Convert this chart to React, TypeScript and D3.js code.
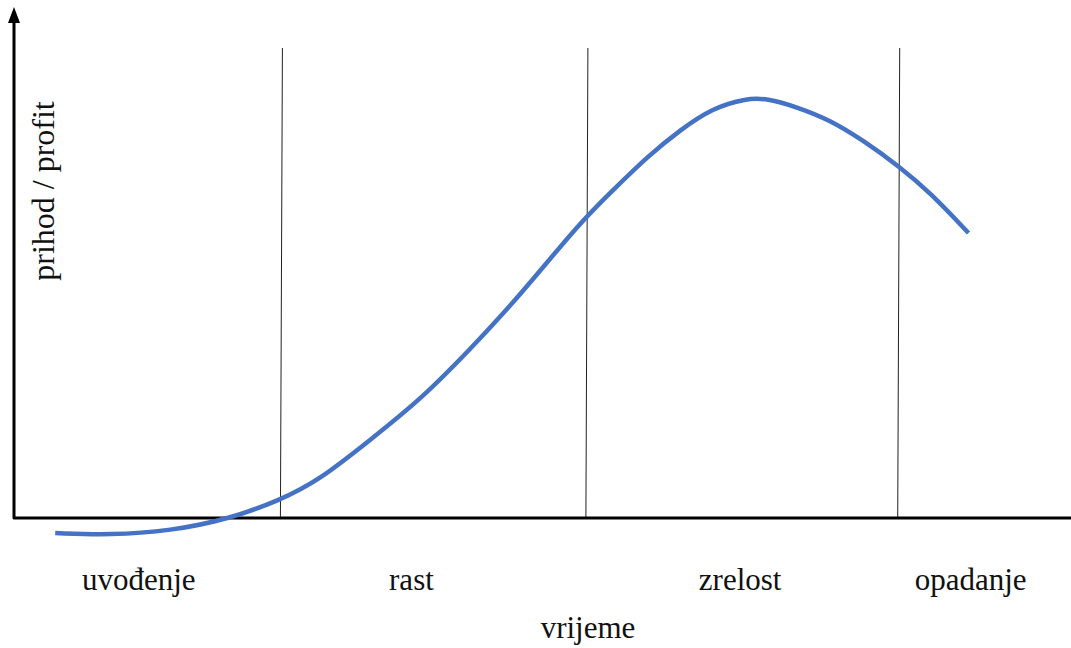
import { useEffect, useRef } from "react";
import * as d3 from "d3";

// stage labels along the time axis and where each sits (in time units)
const stages = ["uvođenje", "rast", "zrelost", "opadanje"];
const stageCenters = [11.8, 37.6, 68.7, 90.5];

// borders between the stages
const boundaries = [25.3, 54.2, 83.7];

// revenue / profit
const time = [3.9, 9.1, 14.8, 20.4, 25.2, 28.9, 33.7, 38.4, 43.1, 47.9, 53.5, 56.7, 59.9, 63.0, 66.1, 69.3, 71.2, 74.1, 77.2, 80.3, 83.8, 86.7, 90.3];
const revenue = [-3.6, -4.1, -3.1, -0.2, 4.3, 9.1, 18.7, 28.2, 40.2, 53.3, 70.6, 78.5, 86.4, 92.8, 98.1, 100.4, 100.4, 98.3, 95.2, 90.4, 84.0, 77.8, 68.2];

const W = 1071;
const H = 648;

export default function App() {
    const svgRef = useRef<SVGSVGElement | null>(null);

    useEffect(() => {
        const svg = d3.select(svgRef.current);
        svg.selectAll("*").remove();

        const x = d3.scaleLinear().domain([0, 100]).range([14, 1071]);
        const y = d3.scaleLinear().domain([0, 100]).range([518, 100]);

        const font = "Liberation Serif, DejaVu Serif, Times New Roman, serif";

        // stage borders
        svg.append("g")
            .selectAll("line")
            .data(boundaries)
            .join("line")
            .attr("x1", d => x(d) + 1)
            .attr("x2", d => x(d) - 1)
            .attr("y1", 48)
            .attr("y2", y(0))
            .attr("stroke", "#222")
            .attr("stroke-width", 1);

        // axes
        svg.append("path")
            .attr("d", `M14,20 L14,${y(0)} L1071,${y(0)}`)
            .attr("fill", "none")
            .attr("stroke", "#000")
            .attr("stroke-width", 3)
            .attr("stroke-linejoin", "round");

        svg.append("path")
            .attr("d", "M14,7 L8,23 L20,23 Z")
            .attr("fill", "#000");

        // the curve, smoothed through the read points
        const pts = time.map((t, i) => [t, revenue[i]] as [number, number]);
        const line = d3.line<[number, number]>()
            .x(d => x(d[0]))
            .y(d => y(d[1]))
            .curve(d3.curveBasis);

        svg.append("path")
            .datum(pts)
            .attr("fill", "none")
            .attr("stroke", "#4472C4")
            .attr("stroke-width", 4.5)
            .attr("d", line);

        // stage labels
        svg.append("g")
            .selectAll("text")
            .data(stages)
            .join("text")
            .attr("x", (d, i) => x(stageCenters[i]))
            .attr("y", 590)
            .attr("text-anchor", "middle")
            .style("font-family", font)
            .style("font-size", "31px")
            .attr("fill", "#111")
            .text(d => d);

        // axis titles
        svg.append("text")
            .attr("x", 588)
            .attr("y", 638)
            .attr("text-anchor", "middle")
            .style("font-family", font)
            .style("font-size", "31px")
            .attr("fill", "#111")
            .text("vrijeme");

        svg.append("text")
            .attr("transform", "translate(54,191) rotate(-90)")
            .attr("text-anchor", "middle")
            .style("font-family", font)
            .style("font-size", "32px")
            .attr("fill", "#111")
            .text("prihod / profit");
    }, []);

    return (
        <svg
            ref={svgRef}
            width={W}
            height={H}
            style={{ position: "absolute", left: 0, top: 0, background: "#fff" }}
        />
    );
}
